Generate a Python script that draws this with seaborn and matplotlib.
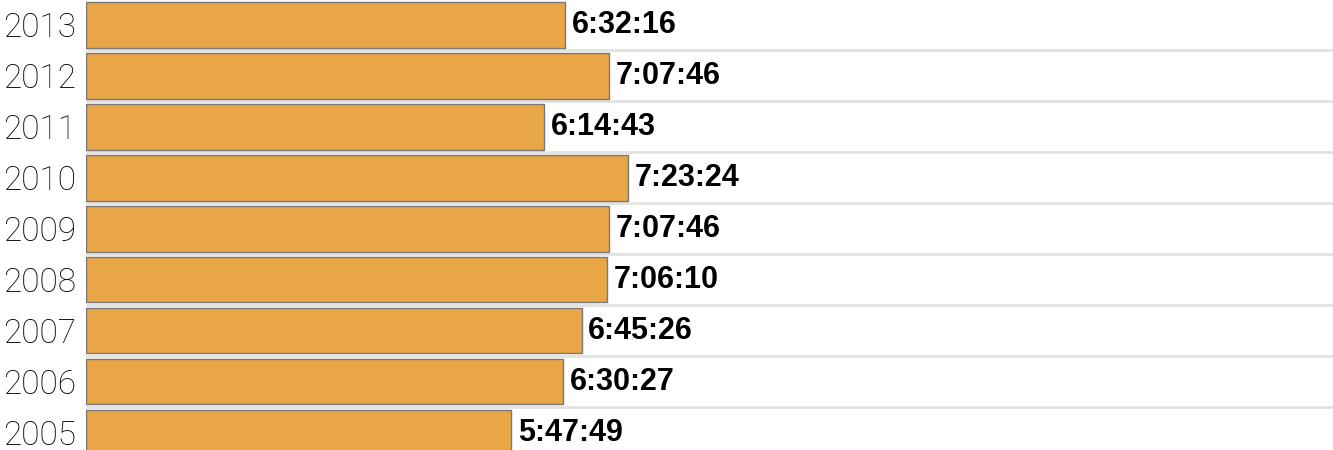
import matplotlib
matplotlib.use("Agg")
import matplotlib.pyplot as plt
import seaborn as sns
import pandas as pd

sns.set_theme(style="white")
plt.rcParams['font.family'] = ['Liberation Sans', 'DejaVu Sans']

years = ["2013", "2012", "2011", "2010", "2009", "2008", "2007", "2006", "2005"]
times = ["6:32:16", "7:07:46", "6:14:43", "7:23:24", "7:07:46",
         "7:06:10", "6:45:26", "6:30:27", "5:47:49"]


def to_seconds(t):
    h, m, s = (int(p) for p in t.split(":"))
    return h * 3600 + m * 60 + s


df = pd.DataFrame({"year": years, "time": times})
df["seconds"] = df["time"].map(to_seconds)

fig = plt.figure(figsize=(13.33, 4.5), dpi=100)
ax = fig.add_axes([86 / 1333, 0, 1 - 86 / 1333, 1])

sns.barplot(data=df, x="seconds", y="year", orient="h", color="#E9A646",
            saturation=1, width=0.89, edgecolor="#777777", linewidth=1,
            ax=ax, zorder=3)

for i, (sec, lab) in enumerate(zip(df["seconds"], df["time"])):
    ax.text(sec + 330, i, lab, va="center", ha="left", fontsize=22,
            fontweight="bold", color="black")

ax.set_xlabel("")
ax.set_ylabel("")
ax.set_xticks([])
ax.set_yticks(range(len(years)))
ax.set_yticklabels(years, fontsize=24, color="black",
                   family=["Roboto", "DejaVu Sans"], fontweight="light")
ax.set_yticks([i - 0.5 for i in range(len(years) + 1)], minor=True)
ax.tick_params(axis="y", which="both", length=0, pad=7)
ax.grid(False)
ax.grid(which="minor", axis="y", color="#e2e2e2", linewidth=2, zorder=0)
for sp in ax.spines.values():
    sp.set_visible(False)

# limits last, set_yticks would widen them
ax.set_xlim(0, 61217)
ax.set_ylim(8.34, -0.49)

fig.savefig("out.png", dpi=100)
